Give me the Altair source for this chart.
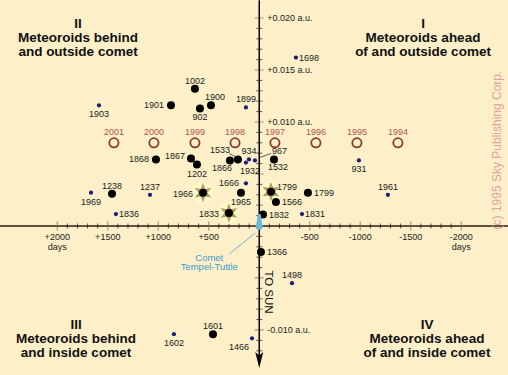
import altair as alt
import pandas as pd
import numpy as np

# ---------------- data ----------------
# large black dots: year label, days (+ = behind comet), distance in a.u.
BIG_YEARS = ["1002", "1901", "902", "1900", "1868", "1867", "1202", "1866", "1533",
             "1532", "1965", "1566", "1832", "1799", "1238", "1366", "1601"]
BIG_DAYS = [637, 874, 587, 478, 1023, 676, 617, 290, 211,
            -146, 181, -165, -37, -482, 1458, -17, 458]
BIG_AU = [0.0132, 0.0116, 0.0113, 0.0116, 0.0064, 0.0065, 0.0059, 0.0063, 0.0064,
          0.0064, 0.0032, 0.0023, 0.0011, 0.0032, 0.0031, -0.0025, -0.0104]

# storm years (star symbol)
STAR_YEARS = ["1966", "1833", "1799"]
STAR_DAYS = [557, 300, -116]
STAR_AU = [0.0032, 0.00125, 0.0033]

# small blue dots
SMALL_YEARS = ["1899", "1903", "934", "1932", "967", "1666", "1831", "1961", "1498",
               "931", "1698", "1969", "1237", "1836", "1602", "1466"]
SMALL_DAYS = [132, 1587, 102, 132, 43, 132, -423, -1274, -324,
              -987, -363, 1666, 1082, 1419, 845, 72]
SMALL_AU = [0.0114, 0.0116, 0.0064, 0.0061, 0.0063, 0.0041, 0.00115, 0.0030, -0.0055,
            0.0063, 0.0162, 0.0032, 0.0030, 0.00115, -0.0104, -0.0108]

# future Earth passages (open circles)
FUTURE_YEARS = ["2001", "2000", "1999", "1998", "1997", "1996", "1995", "1994"]
FUTURE_DAYS = [1439, 1043, 637, 240, -155, -561, -967, -1373]
FUTURE_AU = [0.008, 0.008, 0.008, 0.008, 0.008, 0.008, 0.008, 0.008]

# axis tick labels
X_LABEL_VALUES = [2000, 1500, 1000, 500, -500, -1000, -1500, -2000]
X_LABEL_TEXT = ["+2000\ndays", "+1500", "+1000", "+500", "-500", "-1000", "-1500", "-2000\ndays"]
Y_LABEL_VALUES = [0.020, 0.015, 0.010, -0.010]
Y_LABEL_TEXT = ["+0.020 a.u.", "+0.015 a.u.", "+0.010 a.u.", "-0.010 a.u."]

# ---------------- label placement (style) ----------------
PLACE = {
    ("big", "1002"): "above", ("big", "1901"): "left", ("big", "902"): "below",
    ("big", "1900"): "above_r", ("big", "1868"): "left", ("big", "1867"): "left_up",
    ("big", "1202"): "below", ("big", "1866"): "below_l", ("big", "1533"): "lead_l",
    ("big", "1532"): "below_r", ("big", "1965"): "below", ("big", "1566"): "right",
    ("big", "1832"): "right", ("big", "1799"): "right", ("big", "1238"): "above",
    ("big", "1366"): "right", ("big", "1601"): "above",
    ("star", "1966"): "left_star", ("star", "1833"): "left_star", ("star", "1799"): "right_up",
    ("small", "1899"): "above", ("small", "1903"): "below", ("small", "934"): "above",
    ("small", "1932"): "below_r", ("small", "967"): "lead_r", ("small", "1666"): "left",
    ("small", "1831"): "right_s", ("small", "1961"): "above", ("small", "1498"): "above",
    ("small", "931"): "below", ("small", "1698"): "right_s", ("small", "1969"): "below",
    ("small", "1237"): "above", ("small", "1836"): "right_s", ("small", "1602"): "below",
    ("small", "1466"): "below_ll",
}
PLACE_STYLE = {
    "above": dict(align="center", dx=0, dy=-8),
    "above_r": dict(align="center", dx=4, dy=-8),
    "below": dict(align="center", dx=0, dy=9),
    "below_r": dict(align="center", dx=4, dy=8),
    "below_l": dict(align="center", dx=-8, dy=8),
    "below_ll": dict(align="center", dx=-13, dy=9),
    "left": dict(align="right", dx=-7, dy=0),
    "left_up": dict(align="right", dx=-6, dy=-2),
    "left_star": dict(align="right", dx=-10, dy=1),
    "right": dict(align="left", dx=6, dy=0),
    "right_s": dict(align="left", dx=3, dy=0),
    "right_up": dict(align="left", dx=6, dy=-5),
    "lead_l": dict(align="center", dx=-18, dy=-9),
    "lead_r": dict(align="left", dx=17, dy=-9),
}

FONT = "Liberation Sans"
BG = "#fdf0c9"
XS = alt.Scale(domain=[-2463, 2567], reverse=True, nice=False, zero=False)
YS = alt.Scale(domain=[-0.01433, 0.02173], nice=False, zero=False)


def X(field):
    return alt.X(field, type="quantitative", scale=XS, axis=None)


def Y(field):
    return alt.Y(field, type="quantitative", scale=YS, axis=None)


def frame(kind, years, days, au):
    return pd.DataFrame({"kind": kind, "year": years, "days": days, "au": au})


big = frame("big", BIG_YEARS, BIG_DAYS, BIG_AU)
star = frame("star", STAR_YEARS, STAR_DAYS, STAR_AU)
small = frame("small", SMALL_YEARS, SMALL_DAYS, SMALL_AU)
future = frame("future", FUTURE_YEARS, FUTURE_DAYS, FUTURE_AU)
pts = pd.concat([big, star, small], ignore_index=True)
pts["place"] = [PLACE[(k, y)] for k, y in zip(pts["kind"], pts["year"])]

layers = []

# ---- axes drawn through the data scales ----
layers.append(alt.Chart(pd.DataFrame({"y": [0.0]})).mark_rule(
    color="#2b1d12", strokeWidth=1.3).encode(y=Y("y")))

xt = [v for v in range(-2000, 2001, 100) if v != 0]
xminor = pd.DataFrame({"x": [v for v in xt if v % 500 != 0], "y": 0.0})
xmajor = pd.DataFrame({"x": [v for v in xt if v % 500 == 0], "y": 0.0})
layers.append(alt.Chart(xminor).mark_tick(orient="vertical", size=5, thickness=1,
                                          color="#1e1410").encode(x=X("x"), y=Y("y")))
layers.append(alt.Chart(xmajor).mark_tick(orient="vertical", size=9, thickness=1.2,
                                          color="#8a6a50").encode(x=X("x"), y=Y("y")))

yt = [round(v * 0.001, 3) for v in range(-12, 21) if v != 0]
yminor = pd.DataFrame({"x": 0, "y": [v for v in yt if round(v * 1000) % 5 != 0]})
ymajor = pd.DataFrame({"x": 0, "y": [v for v in yt if round(v * 1000) % 5 == 0]})
layers.append(alt.Chart(yminor).mark_tick(orient="horizontal", size=6, thickness=1,
                                          color="#1e1410").encode(x=X("x"), y=Y("y")))
layers.append(alt.Chart(ymajor).mark_tick(orient="horizontal", size=9, thickness=1.2,
                                          color="#8a6a50").encode(x=X("x"), y=Y("y")))

layers.append(alt.Chart(pd.DataFrame({"x": [0], "y": [0.0217], "y2": [-0.0127]})).mark_rule(
    color="black", strokeWidth=1.5).encode(x=X("x"), y=Y("y"), y2="y2"))
ARROW = "M0,1 L-0.5,-1 L0,-0.55 L0.5,-1 Z"
layers.append(alt.Chart(pd.DataFrame({"x": [0], "y": [-0.01289]})).mark_point(
    shape=ARROW, filled=True, size=256, color="black", opacity=1, strokeWidth=0).encode(
    x=X("x"), y=Y("y")))

xl = pd.DataFrame({"x": X_LABEL_VALUES, "t": X_LABEL_TEXT, "y": 0.0})
layers.append(alt.Chart(xl).mark_text(baseline="top", dy=7, fontSize=9, font=FONT,
                                      lineBreak="\n", lineHeight=10, color="#222").encode(
    x=X("x"), y=Y("y"), text="t:N"))
yl = pd.DataFrame({"y": Y_LABEL_VALUES, "t": Y_LABEL_TEXT, "x": 0})
layers.append(alt.Chart(yl).mark_text(align="left", baseline="middle", dx=8, fontSize=9,
                                      font=FONT, color="#222").encode(
    x=X("x"), y=Y("y"), text="t:N"))

# ---- future passages ----
layers.append(alt.Chart(future).mark_point(shape="circle", filled=False, size=85,
                                           strokeWidth=1.8, color="#8c3a30", opacity=1).encode(
    x=X("days"), y=Y("au")))
layers.append(alt.Chart(future).mark_text(dy=-11, fontSize=9, font=FONT, color="#b0504a").encode(
    x=X("days"), y=Y("au"), text="year:N"))

# ---- storms ----
k = np.arange(12)
r = np.where(k % 2 == 0, 1.0, 0.45)
a = k * np.pi / 6
STAR = "M" + " L".join(f"{rr * np.sin(aa):.3f},{-rr * np.cos(aa):.3f}" for rr, aa in zip(r, a)) + " Z"
layers.append(alt.Chart(star).mark_circle(size=480, color="#fff8c8", opacity=0.9).encode(
    x=X("days"), y=Y("au")))
layers.append(alt.Chart(star).mark_point(shape=STAR, filled=True, size=380, color="#b09c62",
                                         opacity=1, strokeWidth=0).encode(x=X("days"), y=Y("au")))
layers.append(alt.Chart(star).mark_circle(size=64, color="black", opacity=1).encode(
    x=X("days"), y=Y("au")))

# ---- meteoroid dots ----
layers.append(alt.Chart(big).mark_circle(size=64, color="black", opacity=1).encode(
    x=X("days"), y=Y("au")))
layers.append(alt.Chart(small).mark_circle(size=18, color="#1c1c7a", opacity=1).encode(
    x=X("days"), y=Y("au")))

# leader lines
lead_l = pts[pts["place"] == "lead_l"]
lead_r = pts[pts["place"] == "lead_r"]
layers.append(alt.Chart(lead_l).mark_rule(color="#333", strokeWidth=0.8, xOffset=-9, yOffset=-6,
                                          x2Offset=-1, y2Offset=-2).encode(
    x=X("days"), y=Y("au"), x2="days", y2="au"))
layers.append(alt.Chart(lead_r).mark_rule(color="#333", strokeWidth=0.8, xOffset=5, yOffset=-3,
                                          x2Offset=16, y2Offset=-7).encode(
    x=X("days"), y=Y("au"), x2="days", y2="au"))

# labels
for place, st in PLACE_STYLE.items():
    sub = pts[pts["place"] == place]
    if len(sub) == 0:
        continue
    layers.append(alt.Chart(sub).mark_text(baseline="middle", fontSize=9, font=FONT,
                                           color="#1a1a1a", **st).encode(
        x=X("days"), y=Y("au"), text="year:N"))

# ---- comet ----
COMET = "M0,1 C-0.5,1 -0.5,0.45 -0.35,0.15 L-0.18,-1 L0.18,-1 L0.35,0.15 C0.5,0.45 0.5,1 0,1 Z"
origin = pd.DataFrame({"x": [0], "y": [0.0], "t": ["Comet\nTempel-Tuttle"]})
layers.append(alt.Chart(origin).mark_rule(color="#4aa6d0", strokeWidth=0.8, xOffset=-4, yOffset=7,
                                          x2Offset=-30, y2Offset=28).encode(
    x=X("x"), y=Y("y"), x2="x", y2="y"))
layers.append(alt.Chart(origin).mark_point(shape=COMET, filled=True, size=256, color="#6cb8da",
                                           opacity=1, strokeWidth=0, yOffset=-4).encode(
    x=X("x"), y=Y("y")))
layers.append(alt.Chart(origin).mark_text(align="center", baseline="top", dx=-50, dy=27,
                                          fontSize=9.5, font=FONT, lineBreak="\n", lineHeight=9.5,
                                          color="#3a9ccc").encode(
    x=X("x"), y=Y("y"), text="t:N"))

# ---- annotations ----
def title(txt, px, py):
    return alt.Chart(pd.DataFrame({"t": [txt]})).mark_text(
        align="center", baseline="top", fontSize=13.5, fontWeight="bold", font=FONT,
        lineBreak="\n", lineHeight=14, color="#111").encode(
        x=alt.value(px), y=alt.value(py), text="t:N")


layers.append(title("II\nMeteoroids behind\nand outside comet", 78, 17))
layers.append(title("I\nMeteoroids ahead\nof and outside comet", 423, 17))
layers.append(title("III\nMeteoroids behind\nand inside comet", 76, 318))
layers.append(title("IV\nMeteoroids ahead\nof and inside comet", 427, 318))

layers.append(alt.Chart(pd.DataFrame({"t": ["(c) 1995 Sky Publishing Corp."]})).mark_text(
    angle=270, align="center", baseline="middle", fontSize=12, font=FONT, color="#e4a0a0").encode(
    x=alt.value(497), y=alt.value(150), text="t:N"))
layers.append(alt.Chart(pd.DataFrame({"t": ["TO SUN"]})).mark_text(
    angle=90, align="center", baseline="middle", fontSize=11.5, font=FONT, color="#111").encode(
    x=alt.value(268), y=alt.value(292), text="t:N"))

chart = alt.layer(*layers).properties(
    width=508, height=375, background=BG, padding=0, autosize="none"
).configure_view(stroke=None)

chart.save("out.html", embed_options={"renderer": "svg", "actions": False})
